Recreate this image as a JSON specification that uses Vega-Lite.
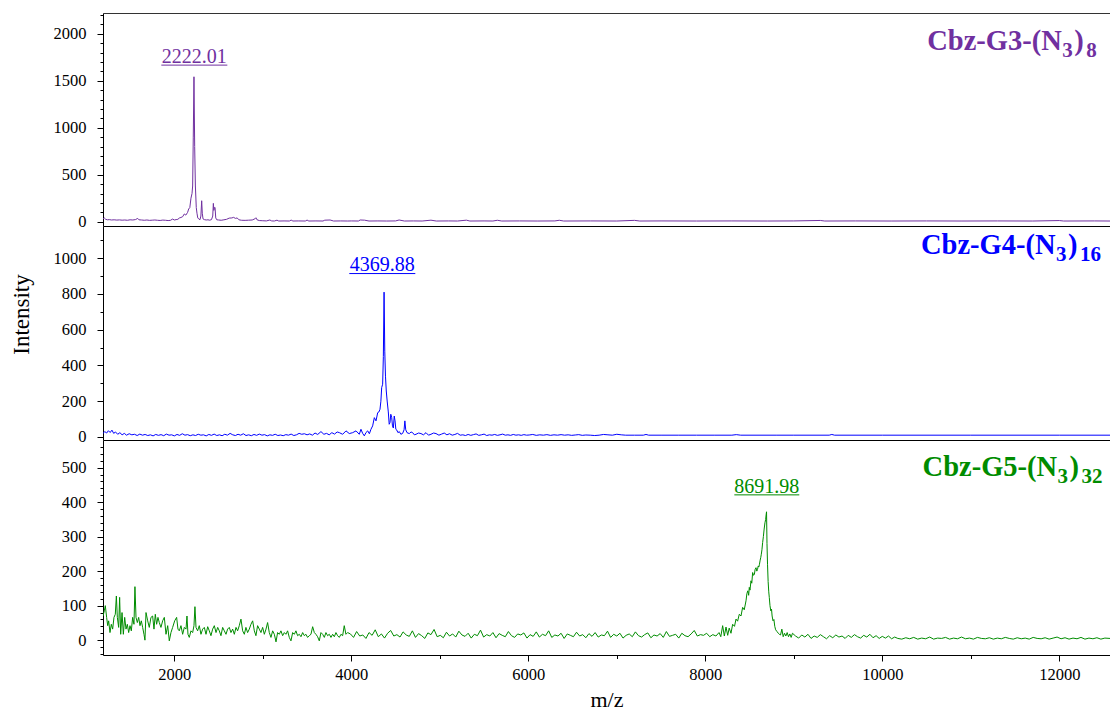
{
"$schema": "https://vega.github.io/schema/vega-lite/v6.json",
"padding": {"left": 10, "top": 7, "right": 0, "bottom": 0},
"spacing": 0,
"bounds": "flush",
"config": {
  "font": "Liberation Serif",
  "view": {"stroke": null},
  "axis": {"domainColor": "#000", "tickColor": "#000", "labelColor": "#000", "titleColor": "#000", "labelFont": "Liberation Serif", "titleFont": "Liberation Serif", "labelFontSize": 16.5, "titleFontWeight": "normal", "grid": false, "domainWidth": 1, "tickWidth": 1, "labelOverlap": false, "labelFlush": false}
},
"datasets": {
  "labels": [
    {"panel": "g3", "name": "Cbz-G3-(N", "s1": "3", "p": ")", "s2": "8", "nx": 10508, "ny": 1830, "peak": "2222.01", "px": 2226, "py": 1691, "u1": 1853, "u2": 2599, "uy": 1667},
    {"panel": "g4", "name": "Cbz-G4-(N", "s1": "3", "p": ")", "s2": "16", "nx": 10437, "ny": 1022, "peak": "4369.88", "px": 4350, "py": 929, "u1": 3977, "u2": 4723, "uy": 914},
    {"panel": "g5", "name": "Cbz-G5-(N", "s1": "3", "p": ")", "s2": "32", "nx": 10455, "ny": 476, "peak": "8691.98", "px": 8695, "py": 425, "u1": 8328, "u2": 9062, "uy": 421}
  ],
  "g3": [
    {"mz":1194,"int":30},{"mz":1209,"int":39},{"mz":1225,"int":25},{"mz":1245,"int":20},{"mz":1265,"int":22},{"mz":1290,"int":18},{"mz":1320,"int":20},{"mz":1350,"int":17},{"mz":1380,"int":19},{"mz":1410,"int":16},{"mz":1440,"int":18},{"mz":1470,"int":15},{"mz":1500,"int":20},{"mz":1530,"int":18},{"mz":1560,"int":22},{"mz":1586,"int":35},{"mz":1600,"int":20},{"mz":1630,"int":18},{"mz":1660,"int":15},{"mz":1690,"int":18},{"mz":1720,"int":14},{"mz":1750,"int":16},{"mz":1780,"int":18},{"mz":1810,"int":15},{"mz":1840,"int":13},{"mz":1870,"int":17},{"mz":1900,"int":15},{"mz":1930,"int":12},{"mz":1955,"int":14},{"mz":1981,"int":28},{"mz":2000,"int":18},{"mz":2020,"int":22},{"mz":2040,"int":25},{"mz":2056,"int":39},{"mz":2075,"int":45},{"mz":2094,"int":53},{"mz":2113,"int":82},{"mz":2130,"int":70},{"mz":2150,"int":99},{"mz":2162,"int":135},{"mz":2175,"int":150},{"mz":2188,"int":250},{"mz":2200,"int":300},{"mz":2207,"int":380},{"mz":2214,"int":900},{"mz":2222,"int":1543},{"mz":2230,"int":800},{"mz":2238,"int":380},{"mz":2248,"int":150},{"mz":2256,"int":90},{"mz":2265,"int":40},{"mz":2275,"int":30},{"mz":2290,"int":21},{"mz":2300,"int":60},{"mz":2309,"int":223},{"mz":2316,"int":90},{"mz":2324,"int":30},{"mz":2340,"int":22},{"mz":2360,"int":18},{"mz":2380,"int":20},{"mz":2400,"int":16},{"mz":2420,"int":22},{"mz":2434,"int":60},{"mz":2441,"int":195},{"mz":2447,"int":120},{"mz":2453,"int":150},{"mz":2460,"int":152},{"mz":2468,"int":40},{"mz":2480,"int":20},{"mz":2500,"int":18},{"mz":2530,"int":15},{"mz":2560,"int":20},{"mz":2590,"int":25},{"mz":2620,"int":38},{"mz":2650,"int":40},{"mz":2670,"int":46},{"mz":2690,"int":35},{"mz":2710,"int":40},{"mz":2730,"int":20},{"mz":2760,"int":15},{"mz":2800,"int":14},{"mz":2840,"int":16},{"mz":2880,"int":18},{"mz":2910,"int":30},{"mz":2922,"int":42},{"mz":2935,"int":20},{"mz":2960,"int":12},{"mz":3000,"int":10},{"mz":3040,"int":8},{"mz":3080,"int":18},{"mz":3100,"int":8},{"mz":3130,"int":7},{"mz":3160,"int":16},{"mz":3180,"int":7},{"mz":3240,"int":8},{"mz":3300,"int":7},{"mz":3320,"int":17},{"mz":3340,"int":7},{"mz":3400,"int":8},{"mz":3480,"int":7},{"mz":3500,"int":17},{"mz":3520,"int":7},{"mz":3600,"int":8},{"mz":3680,"int":7},{"mz":3700,"int":16},{"mz":3760,"int":18},{"mz":3800,"int":7},{"mz":3880,"int":8},{"mz":3960,"int":7},{"mz":4000,"int":8},{"mz":4080,"int":7},{"mz":4100,"int":18},{"mz":4150,"int":16},{"mz":4200,"int":7},{"mz":4300,"int":8},{"mz":4400,"int":7},{"mz":4500,"int":8},{"mz":4540,"int":18},{"mz":4600,"int":7},{"mz":4700,"int":8},{"mz":4800,"int":7},{"mz":4900,"int":16},{"mz":4960,"int":7},{"mz":5100,"int":8},{"mz":5200,"int":7},{"mz":5300,"int":16},{"mz":5340,"int":7},{"mz":5500,"int":8},{"mz":5600,"int":7},{"mz":5650,"int":15},{"mz":5700,"int":7},{"mz":5900,"int":8},{"mz":6100,"int":7},{"mz":6300,"int":8},{"mz":6350,"int":15},{"mz":6400,"int":7},{"mz":6700,"int":8},{"mz":7000,"int":7},{"mz":7200,"int":14},{"mz":7260,"int":7},{"mz":7500,"int":8},{"mz":7900,"int":7},{"mz":8300,"int":8},{"mz":8700,"int":7},{"mz":9000,"int":8},{"mz":9300,"int":13},{"mz":9350,"int":7},{"mz":9700,"int":8},{"mz":10100,"int":7},{"mz":10500,"int":8},{"mz":10900,"int":7},{"mz":11300,"int":8},{"mz":11700,"int":7},{"mz":12000,"int":12},{"mz":12050,"int":7},{"mz":12400,"int":8},{"mz":12573,"int":7}
  ],
  "g4": [
    {"mz":1194,"int":20},{"mz":1215,"int":30},{"mz":1235,"int":22},{"mz":1255,"int":35},{"mz":1275,"int":25},{"mz":1295,"int":38},{"mz":1315,"int":20},{"mz":1335,"int":28},{"mz":1360,"int":15},{"mz":1385,"int":24},{"mz":1410,"int":12},{"mz":1435,"int":20},{"mz":1460,"int":10},{"mz":1490,"int":18},{"mz":1520,"int":12},{"mz":1550,"int":15},{"mz":1580,"int":8},{"mz":1610,"int":16},{"mz":1640,"int":10},{"mz":1670,"int":14},{"mz":1700,"int":8},{"mz":1730,"int":12},{"mz":1760,"int":6},{"mz":1790,"int":14},{"mz":1820,"int":9},{"mz":1850,"int":13},{"mz":1880,"int":7},{"mz":1910,"int":16},{"mz":1940,"int":10},{"mz":1970,"int":12},{"mz":2000,"int":6},{"mz":2030,"int":14},{"mz":2060,"int":9},{"mz":2090,"int":18},{"mz":2120,"int":10},{"mz":2150,"int":13},{"mz":2180,"int":7},{"mz":2210,"int":12},{"mz":2240,"int":8},{"mz":2270,"int":15},{"mz":2300,"int":10},{"mz":2330,"int":12},{"mz":2360,"int":6},{"mz":2390,"int":14},{"mz":2420,"int":9},{"mz":2450,"int":16},{"mz":2480,"int":8},{"mz":2510,"int":12},{"mz":2540,"int":7},{"mz":2570,"int":15},{"mz":2600,"int":10},{"mz":2630,"int":20},{"mz":2660,"int":12},{"mz":2690,"int":8},{"mz":2720,"int":15},{"mz":2750,"int":10},{"mz":2780,"int":18},{"mz":2810,"int":8},{"mz":2840,"int":12},{"mz":2870,"int":7},{"mz":2900,"int":14},{"mz":2930,"int":9},{"mz":2960,"int":16},{"mz":2990,"int":10},{"mz":3020,"int":13},{"mz":3050,"int":6},{"mz":3080,"int":12},{"mz":3110,"int":9},{"mz":3140,"int":15},{"mz":3170,"int":8},{"mz":3200,"int":11},{"mz":3230,"int":7},{"mz":3260,"int":13},{"mz":3290,"int":10},{"mz":3320,"int":16},{"mz":3350,"int":8},{"mz":3380,"int":12},{"mz":3410,"int":20},{"mz":3440,"int":15},{"mz":3470,"int":18},{"mz":3500,"int":12},{"mz":3530,"int":17},{"mz":3560,"int":10},{"mz":3590,"int":22},{"mz":3620,"int":14},{"mz":3657,"int":30},{"mz":3690,"int":15},{"mz":3720,"int":20},{"mz":3750,"int":12},{"mz":3780,"int":24},{"mz":3810,"int":16},{"mz":3840,"int":28},{"mz":3865,"int":24},{"mz":3902,"int":15},{"mz":3940,"int":34},{"mz":3977,"int":19},{"mz":4015,"int":24},{"mz":4053,"int":34},{"mz":4090,"int":15},{"mz":4109,"int":43},{"mz":4128,"int":20},{"mz":4147,"int":6},{"mz":4166,"int":25},{"mz":4185,"int":34},{"mz":4204,"int":18},{"mz":4222,"int":43},{"mz":4241,"int":62},{"mz":4260,"int":108},{"mz":4279,"int":90},{"mz":4298,"int":136},{"mz":4312,"int":140},{"mz":4324,"int":155},{"mz":4334,"int":200},{"mz":4343,"int":276},{"mz":4354,"int":295},{"mz":4362,"int":450},{"mz":4370,"int":810},{"mz":4378,"int":480},{"mz":4386,"int":340},{"mz":4395,"int":257},{"mz":4405,"int":201},{"mz":4418,"int":140},{"mz":4428,"int":71},{"mz":4437,"int":80},{"mz":4446,"int":127},{"mz":4456,"int":110},{"mz":4465,"int":62},{"mz":4475,"int":50},{"mz":4485,"int":117},{"mz":4494,"int":90},{"mz":4503,"int":43},{"mz":4512,"int":40},{"mz":4527,"int":24},{"mz":4542,"int":30},{"mz":4560,"int":15},{"mz":4580,"int":20},{"mz":4596,"int":40},{"mz":4605,"int":90},{"mz":4615,"int":40},{"mz":4629,"int":24},{"mz":4655,"int":19},{"mz":4675,"int":28},{"mz":4693,"int":24},{"mz":4712,"int":12},{"mz":4731,"int":15},{"mz":4760,"int":22},{"mz":4787,"int":19},{"mz":4815,"int":12},{"mz":4844,"int":24},{"mz":4872,"int":10},{"mz":4900,"int":15},{"mz":4930,"int":22},{"mz":4957,"int":19},{"mz":4990,"int":10},{"mz":5020,"int":16},{"mz":5050,"int":22},{"mz":5080,"int":12},{"mz":5110,"int":18},{"mz":5140,"int":10},{"mz":5170,"int":14},{"mz":5200,"int":20},{"mz":5230,"int":10},{"mz":5260,"int":12},{"mz":5290,"int":8},{"mz":5320,"int":14},{"mz":5350,"int":9},{"mz":5380,"int":13},{"mz":5410,"int":17},{"mz":5440,"int":9},{"mz":5470,"int":12},{"mz":5500,"int":16},{"mz":5530,"int":8},{"mz":5560,"int":12},{"mz":5590,"int":10},{"mz":5620,"int":14},{"mz":5650,"int":9},{"mz":5680,"int":12},{"mz":5710,"int":16},{"mz":5740,"int":10},{"mz":5770,"int":12},{"mz":5800,"int":9},{"mz":5830,"int":14},{"mz":5860,"int":10},{"mz":5890,"int":12},{"mz":5920,"int":9},{"mz":5950,"int":13},{"mz":5980,"int":10},{"mz":6010,"int":11},{"mz":6050,"int":14},{"mz":6090,"int":9},{"mz":6130,"int":12},{"mz":6170,"int":10},{"mz":6210,"int":13},{"mz":6250,"int":9},{"mz":6290,"int":12},{"mz":6330,"int":10},{"mz":6370,"int":13},{"mz":6410,"int":10},{"mz":6450,"int":12},{"mz":6490,"int":9},{"mz":6530,"int":11},{"mz":6570,"int":13},{"mz":6610,"int":9},{"mz":6650,"int":11},{"mz":6700,"int":10},{"mz":6750,"int":8},{"mz":6800,"int":10},{"mz":6850,"int":14},{"mz":6900,"int":12},{"mz":6950,"int":10},{"mz":7000,"int":15},{"mz":7050,"int":12},{"mz":7100,"int":10},{"mz":7200,"int":10},{"mz":7300,"int":10},{"mz":7330,"int":14},{"mz":7360,"int":10},{"mz":7500,"int":10},{"mz":7700,"int":10},{"mz":7900,"int":10},{"mz":8100,"int":10},{"mz":8300,"int":10},{"mz":8350,"int":13},{"mz":8400,"int":10},{"mz":8800,"int":10},{"mz":9000,"int":10},{"mz":9400,"int":10},{"mz":9430,"int":14},{"mz":9460,"int":10},{"mz":10000,"int":10},{"mz":11000,"int":10},{"mz":12000,"int":10},{"mz":12573,"int":10}
  ],
  "g5": [
    {"mz":1194,"int":70},{"mz":1209,"int":85},{"mz":1220,"int":100},{"mz":1235,"int":66},{"mz":1247,"int":42},{"mz":1258,"int":56},{"mz":1273,"int":22},{"mz":1288,"int":46},{"mz":1303,"int":32},{"mz":1318,"int":66},{"mz":1333,"int":75},{"mz":1345,"int":128},{"mz":1356,"int":66},{"mz":1371,"int":37},{"mz":1382,"int":124},{"mz":1394,"int":17},{"mz":1409,"int":80},{"mz":1424,"int":17},{"mz":1439,"int":66},{"mz":1454,"int":32},{"mz":1469,"int":46},{"mz":1484,"int":22},{"mz":1499,"int":42},{"mz":1514,"int":27},{"mz":1529,"int":66},{"mz":1544,"int":46},{"mz":1555,"int":155},{"mz":1567,"int":66},{"mz":1582,"int":51},{"mz":1597,"int":66},{"mz":1612,"int":42},{"mz":1627,"int":56},{"mz":1642,"int":37},{"mz":1657,"int":17},{"mz":1668,"int":0},{"mz":1680,"int":80},{"mz":1699,"int":56},{"mz":1717,"int":37},{"mz":1736,"int":66},{"mz":1755,"int":70},{"mz":1770,"int":32},{"mz":1785,"int":75},{"mz":1800,"int":46},{"mz":1815,"int":66},{"mz":1830,"int":51},{"mz":1849,"int":37},{"mz":1868,"int":56},{"mz":1887,"int":66},{"mz":1906,"int":17},{"mz":1925,"int":42},{"mz":1943,"int":-2},{"mz":1962,"int":22},{"mz":1981,"int":37},{"mz":2004,"int":56},{"mz":2026,"int":66},{"mz":2041,"int":32},{"mz":2056,"int":27},{"mz":2075,"int":42},{"mz":2094,"int":17},{"mz":2113,"int":37},{"mz":2132,"int":32},{"mz":2143,"int":70},{"mz":2154,"int":17},{"mz":2169,"int":8},{"mz":2188,"int":27},{"mz":2207,"int":22},{"mz":2222,"int":42},{"mz":2233,"int":97},{"mz":2245,"int":37},{"mz":2263,"int":27},{"mz":2282,"int":42},{"mz":2301,"int":17},{"mz":2320,"int":32},{"mz":2339,"int":37},{"mz":2358,"int":17},{"mz":2377,"int":39},{"mz":2395,"int":27},{"mz":2414,"int":13},{"mz":2433,"int":32},{"mz":2452,"int":42},{"mz":2471,"int":22},{"mz":2490,"int":37},{"mz":2508,"int":27},{"mz":2527,"int":13},{"mz":2546,"int":37},{"mz":2565,"int":27},{"mz":2584,"int":17},{"mz":2602,"int":32},{"mz":2621,"int":37},{"mz":2640,"int":22},{"mz":2659,"int":32},{"mz":2678,"int":17},{"mz":2697,"int":37},{"mz":2715,"int":27},{"mz":2734,"int":42},{"mz":2753,"int":61},{"mz":2772,"int":27},{"mz":2791,"int":17},{"mz":2809,"int":37},{"mz":2828,"int":22},{"mz":2847,"int":32},{"mz":2866,"int":46},{"mz":2885,"int":56},{"mz":2904,"int":27},{"mz":2922,"int":13},{"mz":2941,"int":42},{"mz":2960,"int":32},{"mz":2979,"int":22},{"mz":2998,"int":37},{"mz":3017,"int":17},{"mz":3036,"int":32},{"mz":3054,"int":51},{"mz":3073,"int":22},{"mz":3092,"int":8},{"mz":3111,"int":27},{"mz":3130,"int":17},{"mz":3149,"int":-5},{"mz":3167,"int":22},{"mz":3186,"int":17},{"mz":3205,"int":27},{"mz":3224,"int":13},{"mz":3243,"int":22},{"mz":3261,"int":17},{"mz":3280,"int":27},{"mz":3299,"int":8},{"mz":3318,"int":-2},{"mz":3337,"int":22},{"mz":3356,"int":17},{"mz":3374,"int":27},{"mz":3393,"int":13},{"mz":3412,"int":17},{"mz":3431,"int":10},{"mz":3450,"int":22},{"mz":3469,"int":13},{"mz":3487,"int":17},{"mz":3506,"int":8},{"mz":3525,"int":13},{"mz":3544,"int":17},{"mz":3563,"int":39},{"mz":3582,"int":22},{"mz":3600,"int":17},{"mz":3619,"int":10},{"mz":3638,"int":-2},{"mz":3657,"int":22},{"mz":3676,"int":17},{"mz":3695,"int":8},{"mz":3713,"int":22},{"mz":3732,"int":13},{"mz":3751,"int":17},{"mz":3770,"int":8},{"mz":3789,"int":17},{"mz":3808,"int":10},{"mz":3826,"int":22},{"mz":3845,"int":13},{"mz":3864,"int":8},{"mz":3883,"int":17},{"mz":3902,"int":13},{"mz":3920,"int":42},{"mz":3939,"int":17},{"mz":3958,"int":22},
    {"mz":3990,"int":18},{"mz":4025,"int":8},{"mz":4060,"int":25},{"mz":4095,"int":12},{"mz":4130,"int":15},{"mz":4165,"int":5},{"mz":4200,"int":22},{"mz":4235,"int":14},{"mz":4270,"int":30},{"mz":4305,"int":10},{"mz":4340,"int":18},{"mz":4375,"int":6},{"mz":4410,"int":20},{"mz":4445,"int":28},{"mz":4480,"int":12},{"mz":4515,"int":16},{"mz":4550,"int":9},{"mz":4585,"int":24},{"mz":4620,"int":15},{"mz":4655,"int":11},{"mz":4690,"int":27},{"mz":4725,"int":8},{"mz":4760,"int":19},{"mz":4795,"int":13},{"mz":4830,"int":5},{"mz":4865,"int":21},{"mz":4900,"int":16},{"mz":4935,"int":31},{"mz":4970,"int":10},{"mz":5005,"int":14},{"mz":5040,"int":7},{"mz":5075,"int":23},{"mz":5110,"int":12},{"mz":5145,"int":18},{"mz":5180,"int":9},{"mz":5215,"int":26},{"mz":5250,"int":15},{"mz":5285,"int":11},{"mz":5320,"int":20},{"mz":5355,"int":6},{"mz":5390,"int":17},{"mz":5425,"int":13},{"mz":5460,"int":29},{"mz":5495,"int":9},{"mz":5530,"int":16},{"mz":5565,"int":12},{"mz":5600,"int":22},{"mz":5635,"int":7},{"mz":5670,"int":19},{"mz":5705,"int":14},{"mz":5740,"int":10},{"mz":5775,"int":25},{"mz":5810,"int":13},{"mz":5845,"int":8},{"mz":5880,"int":18},{"mz":5915,"int":15},{"mz":5950,"int":21},{"mz":5985,"int":6},{"mz":6020,"int":16},{"mz":6055,"int":11},{"mz":6090,"int":24},{"mz":6125,"int":9},{"mz":6160,"int":17},{"mz":6195,"int":13},{"mz":6230,"int":27},{"mz":6265,"int":8},{"mz":6300,"int":15},{"mz":6335,"int":12},{"mz":6370,"int":20},{"mz":6405,"int":5},{"mz":6440,"int":18},{"mz":6475,"int":14},{"mz":6510,"int":10},{"mz":6545,"int":23},{"mz":6580,"int":12},{"mz":6615,"int":16},{"mz":6650,"int":7},{"mz":6685,"int":19},{"mz":6720,"int":11},{"mz":6755,"int":22},{"mz":6790,"int":9},{"mz":6825,"int":15},{"mz":6860,"int":13},{"mz":6895,"int":26},{"mz":6930,"int":8},{"mz":6965,"int":17},{"mz":7000,"int":12},{"mz":7035,"int":20},{"mz":7070,"int":6},{"mz":7105,"int":14},{"mz":7140,"int":18},{"mz":7175,"int":10},{"mz":7210,"int":24},{"mz":7245,"int":13},{"mz":7280,"int":9},{"mz":7315,"int":16},{"mz":7350,"int":21},{"mz":7385,"int":7},{"mz":7420,"int":15},{"mz":7455,"int":12},{"mz":7490,"int":19},{"mz":7525,"int":8},{"mz":7560,"int":25},{"mz":7595,"int":11},{"mz":7630,"int":14},{"mz":7665,"int":17},{"mz":7700,"int":6},{"mz":7735,"int":20},{"mz":7770,"int":13},{"mz":7805,"int":10},{"mz":7840,"int":18},{"mz":7875,"int":28},{"mz":7910,"int":12},{"mz":7945,"int":16},{"mz":7980,"int":14},{"mz":8015,"int":20},{"mz":8050,"int":10},{"mz":8085,"int":16},{"mz":8120,"int":12},{"mz":8155,"int":22},
    {"mz":8175,"int":10},{"mz":8196,"int":42},{"mz":8215,"int":12},{"mz":8234,"int":38},{"mz":8253,"int":14},{"mz":8270,"int":35},{"mz":8290,"int":20},{"mz":8309,"int":46},{"mz":8330,"int":40},{"mz":8347,"int":61},{"mz":8365,"int":55},{"mz":8384,"int":75},{"mz":8403,"int":70},{"mz":8422,"int":95},{"mz":8440,"int":88},{"mz":8460,"int":114},{"mz":8470,"int":135},{"mz":8480,"int":143},{"mz":8490,"int":130},{"mz":8497,"int":153},{"mz":8505,"int":145},{"mz":8516,"int":172},{"mz":8525,"int":165},{"mz":8535,"int":196},{"mz":8545,"int":188},{"mz":8554,"int":190},{"mz":8563,"int":205},{"mz":8573,"int":210},{"mz":8582,"int":200},{"mz":8590,"int":205},{"mz":8598,"int":215},{"mz":8605,"int":212},{"mz":8612,"int":220},{"mz":8620,"int":232},{"mz":8627,"int":240},{"mz":8633,"int":249},{"mz":8640,"int":262},{"mz":8648,"int":283},{"mz":8656,"int":300},{"mz":8665,"int":322},{"mz":8674,"int":340},{"mz":8682,"int":350},{"mz":8688,"int":365},{"mz":8692,"int":372},{"mz":8697,"int":280},{"mz":8703,"int":220},{"mz":8710,"int":170},{"mz":8717,"int":140},{"mz":8723,"int":124},{"mz":8731,"int":100},{"mz":8740,"int":85},{"mz":8748,"int":90},{"mz":8755,"int":70},{"mz":8765,"int":56},{"mz":8775,"int":60},{"mz":8785,"int":40},{"mz":8795,"int":30},{"mz":8810,"int":25},{"mz":8825,"int":20},{"mz":8836,"int":17},{"mz":8850,"int":15},{"mz":8865,"int":32},{"mz":8880,"int":10},{"mz":8895,"int":20},{"mz":8910,"int":12},{"mz":8925,"int":22},{"mz":8940,"int":10},{"mz":8955,"int":18},{"mz":8970,"int":8},{"mz":8985,"int":20},
    {"mz":9020,"int":12},{"mz":9055,"int":6},{"mz":9090,"int":15},{"mz":9125,"int":9},{"mz":9160,"int":17},{"mz":9195,"int":5},{"mz":9230,"int":12},{"mz":9265,"int":8},{"mz":9300,"int":16},{"mz":9335,"int":10},{"mz":9370,"int":4},{"mz":9405,"int":13},{"mz":9440,"int":7},{"mz":9475,"int":15},{"mz":9510,"int":9},{"mz":9545,"int":12},{"mz":9580,"int":5},{"mz":9615,"int":14},{"mz":9650,"int":8},{"mz":9685,"int":16},{"mz":9720,"int":10},{"mz":9755,"int":6},{"mz":9790,"int":14},{"mz":9825,"int":9},{"mz":9860,"int":17},{"mz":9895,"int":7},{"mz":9930,"int":13},{"mz":9965,"int":5},{"mz":10000,"int":11},{"mz":10035,"int":6},{"mz":10070,"int":12},{"mz":10105,"int":4},{"mz":10140,"int":9},{"mz":10175,"int":5},{"mz":10220,"int":3},{"mz":10265,"int":7},{"mz":10310,"int":4},{"mz":10355,"int":8},{"mz":10400,"int":3},{"mz":10445,"int":6},{"mz":10490,"int":4},{"mz":10535,"int":9},{"mz":10580,"int":3},{"mz":10625,"int":6},{"mz":10670,"int":5},{"mz":10715,"int":8},{"mz":10760,"int":3},{"mz":10805,"int":6},{"mz":10850,"int":4},{"mz":10895,"int":9},{"mz":10940,"int":4},{"mz":10985,"int":6},{"mz":11030,"int":3},{"mz":11075,"int":8},{"mz":11120,"int":5},{"mz":11165,"int":4},{"mz":11210,"int":7},{"mz":11255,"int":3},{"mz":11300,"int":6},{"mz":11345,"int":4},{"mz":11390,"int":8},{"mz":11435,"int":5},{"mz":11480,"int":3},{"mz":11525,"int":7},{"mz":11570,"int":4},{"mz":11615,"int":6},{"mz":11660,"int":3},{"mz":11705,"int":8},{"mz":11750,"int":5},{"mz":11795,"int":4},{"mz":11840,"int":7},{"mz":11885,"int":3},{"mz":11930,"int":6},{"mz":11975,"int":9},{"mz":12020,"int":4},{"mz":12065,"int":7},{"mz":12110,"int":3},{"mz":12155,"int":6},{"mz":12200,"int":4},{"mz":12245,"int":8},{"mz":12290,"int":3},{"mz":12335,"int":6},{"mz":12380,"int":4},{"mz":12425,"int":7},{"mz":12470,"int":3},{"mz":12515,"int":6},{"mz":12573,"int":5}
  ]
},
"vconcat": [
  {
    "width": 1007, "height": 213,
    "resolve": {"axis": {"x": "independent", "y": "independent"}},
    "encoding": {
      "x": {"type": "quantitative", "scale": {"domain": [1194, 12573], "nice": false, "zero": false}},
      "y": {"type": "quantitative", "scale": {"domain": [-46, 2222], "nice": false, "zero": false}}
    },
    "layer": [
      {"data": {"name": "g3"}, "mark": {"type": "line", "color": "#7030A0", "strokeWidth": 1, "clip": true},
       "encoding": {
         "x": {"field": "mz", "type": "quantitative", "scale": {"domain": [1194, 12573], "nice": false, "zero": false}, "axis": {"labels": false, "ticks": false, "title": null}},
         "y": {"field": "int", "type": "quantitative", "scale": {"domain": [-46, 2222], "nice": false, "zero": false}, "axis": {"title": null, "format": "d", "values": [0,100,200,300,400,500,600,700,800,900,1000,1100,1200,1300,1400,1500,1600,1700,1800,1900,2000,2100,2200], "labelExpr": "datum.value % 500 === 0 ? datum.label : ''", "tickSize": {"condition": {"test": "datum.value % 500 === 0", "value": 6}, "value": 3}, "labelPadding": 11}}
       }},
      {"data": {"name": "labels"}, "transform": [{"filter": "datum.panel === 'g3'"}],
       "mark": {"type": "text", "align": "left", "baseline": "alphabetic", "fontWeight": "bold", "fontSize": 28.5, "color": "#7030A0"},
       "encoding": {"x": {"field": "nx", "type": "quantitative", "axis": {"orient": "top", "labels": false, "ticks": false, "title": null, "domainColor": "#333"}},
                    "y": {"field": "ny", "type": "quantitative", "axis": null}, "text": {"field": "name"}}},
      {"data": {"name": "labels"}, "transform": [{"filter": "datum.panel === 'g3'"}],
       "mark": {"type": "text", "align": "left", "baseline": "alphabetic", "fontWeight": "bold", "fontSize": 21, "dx": 135, "dy": 7, "color": "#7030A0"},
       "encoding": {"x": {"field": "nx", "type": "quantitative", "axis": null}, "y": {"field": "ny", "type": "quantitative", "axis": null}, "text": {"field": "s1"}}},
      {"data": {"name": "labels"}, "transform": [{"filter": "datum.panel === 'g3'"}],
       "mark": {"type": "text", "align": "left", "baseline": "alphabetic", "fontWeight": "bold", "fontSize": 28.5, "dx": 147, "color": "#7030A0"},
       "encoding": {"x": {"field": "nx", "type": "quantitative", "axis": null}, "y": {"field": "ny", "type": "quantitative", "axis": null}, "text": {"field": "p"}}},
      {"data": {"name": "labels"}, "transform": [{"filter": "datum.panel === 'g3'"}],
       "mark": {"type": "text", "align": "left", "baseline": "alphabetic", "fontWeight": "bold", "fontSize": 21, "dx": 159, "dy": 7, "color": "#7030A0"},
       "encoding": {"x": {"field": "nx", "type": "quantitative", "axis": null}, "y": {"field": "ny", "type": "quantitative", "axis": null}, "text": {"field": "s2"}}},
      {"data": {"name": "labels"}, "transform": [{"filter": "datum.panel === 'g3'"}],
       "mark": {"type": "text", "align": "center", "baseline": "alphabetic", "fontSize": 20, "color": "#7030A0"},
       "encoding": {"x": {"field": "px", "type": "quantitative", "axis": null}, "y": {"field": "py", "type": "quantitative", "axis": null}, "text": {"field": "peak"}}},
      {"data": {"name": "labels"}, "transform": [{"filter": "datum.panel === 'g3'"}],
       "mark": {"type": "rule", "strokeWidth": 1, "color": "#7030A0"},
       "encoding": {"x": {"field": "u1", "type": "quantitative", "axis": null}, "x2": {"field": "u2"}, "y": {"field": "uy", "type": "quantitative", "axis": null}}}
    ]
  },
  {
    "width": 1007, "height": 214,
    "resolve": {"axis": {"x": "independent", "y": "independent"}},
    "encoding": {
      "x": {"type": "quantitative", "scale": {"domain": [1194, 12573], "nice": false, "zero": false}},
      "y": {"type": "quantitative", "scale": {"domain": [-17, 1180], "nice": false, "zero": false}}
    },
    "layer": [
      {"data": {"name": "g4"}, "mark": {"type": "line", "color": "#0000FF", "strokeWidth": 1, "clip": true},
       "encoding": {
         "x": {"field": "mz", "type": "quantitative", "scale": {"domain": [1194, 12573], "nice": false, "zero": false}, "axis": {"labels": false, "ticks": false, "title": null}},
         "y": {"field": "int", "type": "quantitative", "scale": {"domain": [-17, 1180], "nice": false, "zero": false}, "axis": {"title": "Intensity", "titleFontSize": 23, "titleX": -70, "titleY": 88, "format": "d", "values": [0,100,200,300,400,500,600,700,800,900,1000,1100], "labelExpr": "datum.value % 200 === 0 ? datum.label : ''", "tickSize": {"condition": {"test": "datum.value % 200 === 0", "value": 6}, "value": 3}, "labelPadding": 11}}
       }},
      {"data": {"name": "labels"}, "transform": [{"filter": "datum.panel === 'g4'"}],
       "mark": {"type": "text", "align": "left", "baseline": "alphabetic", "fontWeight": "bold", "fontSize": 28.5, "color": "#0000FF"},
       "encoding": {"x": {"field": "nx", "type": "quantitative", "axis": null}, "y": {"field": "ny", "type": "quantitative", "axis": null}, "text": {"field": "name"}}},
      {"data": {"name": "labels"}, "transform": [{"filter": "datum.panel === 'g4'"}],
       "mark": {"type": "text", "align": "left", "baseline": "alphabetic", "fontWeight": "bold", "fontSize": 21, "dx": 135, "dy": 7, "color": "#0000FF"},
       "encoding": {"x": {"field": "nx", "type": "quantitative", "axis": null}, "y": {"field": "ny", "type": "quantitative", "axis": null}, "text": {"field": "s1"}}},
      {"data": {"name": "labels"}, "transform": [{"filter": "datum.panel === 'g4'"}],
       "mark": {"type": "text", "align": "left", "baseline": "alphabetic", "fontWeight": "bold", "fontSize": 28.5, "dx": 147, "color": "#0000FF"},
       "encoding": {"x": {"field": "nx", "type": "quantitative", "axis": null}, "y": {"field": "ny", "type": "quantitative", "axis": null}, "text": {"field": "p"}}},
      {"data": {"name": "labels"}, "transform": [{"filter": "datum.panel === 'g4'"}],
       "mark": {"type": "text", "align": "left", "baseline": "alphabetic", "fontWeight": "bold", "fontSize": 21, "dx": 159, "dy": 7, "color": "#0000FF"},
       "encoding": {"x": {"field": "nx", "type": "quantitative", "axis": null}, "y": {"field": "ny", "type": "quantitative", "axis": null}, "text": {"field": "s2"}}},
      {"data": {"name": "labels"}, "transform": [{"filter": "datum.panel === 'g4'"}],
       "mark": {"type": "text", "align": "center", "baseline": "alphabetic", "fontSize": 20, "color": "#0000FF"},
       "encoding": {"x": {"field": "px", "type": "quantitative", "axis": null}, "y": {"field": "py", "type": "quantitative", "axis": null}, "text": {"field": "peak"}}},
      {"data": {"name": "labels"}, "transform": [{"filter": "datum.panel === 'g4'"}],
       "mark": {"type": "rule", "strokeWidth": 1, "color": "#0000FF"},
       "encoding": {"x": {"field": "u1", "type": "quantitative", "axis": null}, "x2": {"field": "u2"}, "y": {"field": "uy", "type": "quantitative", "axis": null}}}
    ]
  },
  {
    "width": 1007, "height": 215,
    "resolve": {"axis": {"x": "independent", "y": "independent"}},
    "encoding": {
      "x": {"type": "quantitative", "scale": {"domain": [1194, 12573], "nice": false, "zero": false}},
      "y": {"type": "quantitative", "scale": {"domain": [-43, 580], "nice": false, "zero": false}}
    },
    "layer": [
      {"data": {"name": "g5"}, "mark": {"type": "line", "color": "#008C00", "strokeWidth": 1, "clip": true},
       "encoding": {
         "x": {"field": "mz", "type": "quantitative", "scale": {"domain": [1194, 12573], "nice": false, "zero": false}, "axis": {"title": "m/z", "titleFontSize": 22, "titlePadding": 7, "format": "d", "values": [2000,3000,4000,5000,6000,7000,8000,9000,10000,11000,12000], "labelExpr": "datum.value % 2000 === 0 ? datum.label : ''", "tickSize": {"condition": {"test": "datum.value % 2000 === 0", "value": 6}, "value": 3.5}, "labelPadding": 5}},
         "y": {"field": "int", "type": "quantitative", "scale": {"domain": [-43, 580], "nice": false, "zero": false}, "axis": {"title": null, "format": "d", "values": [-40,-20,0,20,40,60,80,100,120,140,160,180,200,220,240,260,280,300,320,340,360,380,400,420,440,460,480,500,520,540,560], "labelExpr": "datum.value % 100 === 0 && datum.value >= 0 ? datum.label : ''", "tickSize": {"condition": {"test": "datum.value % 100 === 0", "value": 6}, "value": 3}, "labelPadding": 11}}
       }},
      {"data": {"name": "labels"}, "transform": [{"filter": "datum.panel === 'g5'"}],
       "mark": {"type": "text", "align": "left", "baseline": "alphabetic", "fontWeight": "bold", "fontSize": 28.5, "color": "#008C00"},
       "encoding": {"x": {"field": "nx", "type": "quantitative", "axis": null}, "y": {"field": "ny", "type": "quantitative", "axis": null}, "text": {"field": "name"}}},
      {"data": {"name": "labels"}, "transform": [{"filter": "datum.panel === 'g5'"}],
       "mark": {"type": "text", "align": "left", "baseline": "alphabetic", "fontWeight": "bold", "fontSize": 21, "dx": 135, "dy": 7, "color": "#008C00"},
       "encoding": {"x": {"field": "nx", "type": "quantitative", "axis": null}, "y": {"field": "ny", "type": "quantitative", "axis": null}, "text": {"field": "s1"}}},
      {"data": {"name": "labels"}, "transform": [{"filter": "datum.panel === 'g5'"}],
       "mark": {"type": "text", "align": "left", "baseline": "alphabetic", "fontWeight": "bold", "fontSize": 28.5, "dx": 147, "color": "#008C00"},
       "encoding": {"x": {"field": "nx", "type": "quantitative", "axis": null}, "y": {"field": "ny", "type": "quantitative", "axis": null}, "text": {"field": "p"}}},
      {"data": {"name": "labels"}, "transform": [{"filter": "datum.panel === 'g5'"}],
       "mark": {"type": "text", "align": "left", "baseline": "alphabetic", "fontWeight": "bold", "fontSize": 21, "dx": 159, "dy": 7, "color": "#008C00"},
       "encoding": {"x": {"field": "nx", "type": "quantitative", "axis": null}, "y": {"field": "ny", "type": "quantitative", "axis": null}, "text": {"field": "s2"}}},
      {"data": {"name": "labels"}, "transform": [{"filter": "datum.panel === 'g5'"}],
       "mark": {"type": "text", "align": "center", "baseline": "alphabetic", "fontSize": 20, "color": "#008C00"},
       "encoding": {"x": {"field": "px", "type": "quantitative", "axis": null}, "y": {"field": "py", "type": "quantitative", "axis": null}, "text": {"field": "peak"}}},
      {"data": {"name": "labels"}, "transform": [{"filter": "datum.panel === 'g5'"}],
       "mark": {"type": "rule", "strokeWidth": 1, "color": "#008C00"},
       "encoding": {"x": {"field": "u1", "type": "quantitative", "axis": null}, "x2": {"field": "u2"}, "y": {"field": "uy", "type": "quantitative", "axis": null}}}
    ]
  }
]
}
